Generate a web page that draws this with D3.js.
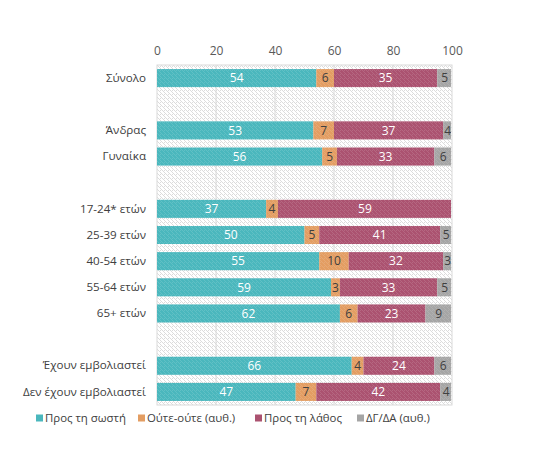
<!DOCTYPE html>
<html>
<head>
<meta charset="utf-8">
<script src="https://cdn.jsdelivr.net/npm/d3@7"></script>
<style>
    body { margin: 0; background: #fff; }
    text { font-family: "Open Sans", "Noto Sans", sans-serif; }
</style>
</head>
<body>
<div id="chart"></div>
<script>
    // rows, blank strings = empty spacer slots
    const categories = ['Σύνολο', '', 'Άνδρας', 'Γυναίκα', ' ', '17-24* ετών', '25-39 ετών', '40-54 ετών',
        '55-64 ετών', '65+ ετών', '  ', 'Έχουν εμβολιαστεί', 'Δεν έχουν εμβολιαστεί'];
    const seriesNames = ['Προς τη σωστή', 'Ούτε-ούτε (αυθ.)', 'Προς τη λάθος', 'ΔΓ/ΔΑ (αυθ.)'];
    const correct = [54, null, 53, 56, null, 37, 50, 55, 59, 62, null, 66, 47];
    const neither = [6, null, 7, 5, null, 4, 5, 10, 3, 6, null, 4, 7];
    const wrong   = [35, null, 37, 33, null, 59, 41, 32, 33, 23, null, 24, 42];
    const dkna    = [5, null, 4, 6, null, 0, 5, 3, 5, 9, null, 6, 4];
    const xTicks = [0, 20, 40, 60, 80, 100];

    const colors = ['#4ab7bd', '#e39d62', '#ab5270', '#a5a5a5'];
    const labelColors = ['#ffffff', '#404040', '#ffffff', '#404040'];

    const width = 551, height = 462;
    const margin = { top: 65, right: 100, bottom: 57, left: 157 };

    const svg = d3.select('#chart').append('svg')
        .attr('width', width)
        .attr('height', height);

    const defs = svg.append('defs');
    const hatch = defs.append('pattern')
        .attr('id', 'hatch')
        .attr('patternUnits', 'userSpaceOnUse')
        .attr('width', 4).attr('height', 4);
    hatch.append('rect').attr('width', 4).attr('height', 4).attr('fill', '#fff');
    hatch.append('path')
        .attr('d', 'M-1,1 l2,2 M0,0 l4,4 M3,-1 l2,2')
        .attr('stroke', '#dcdcdc').attr('stroke-width', 1);

    const hatchLight = defs.append('pattern')
        .attr('id', 'hatchLight')
        .attr('patternUnits', 'userSpaceOnUse')
        .attr('width', 4).attr('height', 4);
    hatchLight.append('path')
        .attr('d', 'M-1,1 l2,2 M0,0 l4,4 M3,-1 l2,2')
        .attr('stroke', '#fff').attr('stroke-opacity', 0.12).attr('stroke-width', 1);

    defs.append('clipPath').attr('id', 'plotClip')
        .append('rect')
        .attr('x', margin.left).attr('y', margin.top)
        .attr('width', width - margin.left - margin.right)
        .attr('height', height - margin.top - margin.bottom);

    const x = d3.scaleLinear()
        .domain([0, 100])
        .range([margin.left, width - margin.right + 1]);

    const y = d3.scaleBand()
        .domain(categories)
        .range([margin.top, height - margin.bottom])
        .paddingInner(0.31)
        .paddingOuter(0.155);

    // plot area background
    svg.append('rect')
        .attr('x', margin.left).attr('y', margin.top)
        .attr('width', x(100) - margin.left)
        .attr('height', height - margin.top - margin.bottom)
        .attr('fill', 'url(#hatch)')
        .attr('stroke', '#d9d9d9');

    // gridlines
    svg.append('g').selectAll('line')
        .data(xTicks.slice(1, -1))
        .join('line')
        .attr('x1', d => x(d)).attr('x2', d => x(d))
        .attr('y1', margin.top).attr('y2', height - margin.bottom)
        .attr('stroke', '#d9d9d9');

    // top axis labels
    svg.append('g')
        .attr('transform', `translate(0,${margin.top - 10})`)
        .call(d3.axisTop(x).tickValues(xTicks).tickSize(0).tickPadding(0))
        .call(g => g.select('.domain').remove())
        .call(g => g.selectAll('text')
            .attr('fill', '#595959')
            .style('font-size', '12px')
            .style('font-family', '"Open Sans", "Noto Sans", sans-serif'));

    // category labels
    svg.append('g')
        .attr('transform', `translate(${margin.left - 11},0)`)
        .call(d3.axisLeft(y).tickSize(0).tickPadding(0))
        .call(g => g.select('.domain').remove())
        .call(g => g.selectAll('text')
            .attr('fill', '#404040')
            .style('font-size', '11.6px')
            .style('font-family', '"Open Sans", "Noto Sans", sans-serif'));

    const table = categories.map((c, i) => ({
        cat: c, correct: correct[i], neither: neither[i], wrong: wrong[i], dkna: dkna[i]
    })).filter(d => d.correct !== null);

    const keys = ['correct', 'neither', 'wrong', 'dkna'];
    const stacked = d3.stack().keys(keys)(table);

    const bars = svg.append('g').attr('clip-path', 'url(#plotClip)');

    stacked.forEach((layer, si) => {
        const g = bars.append('g');
        const segs = layer.filter(d => d[1] > d[0]);
        g.selectAll('rect.bar')
            .data(segs)
            .join('rect')
            .attr('class', 'bar')
            .attr('x', d => x(d[0]))
            .attr('y', d => y(d.data.cat))
            .attr('width', d => x(d[1]) - x(d[0]))
            .attr('height', y.bandwidth())
            .attr('fill', colors[si]);
        g.selectAll('rect.tex')
            .data(segs)
            .join('rect')
            .attr('class', 'tex')
            .attr('x', d => x(d[0]))
            .attr('y', d => y(d.data.cat))
            .attr('width', d => x(d[1]) - x(d[0]))
            .attr('height', y.bandwidth())
            .attr('fill', 'url(#hatchLight)');
        g.selectAll('text')
            .data(segs)
            .join('text')
            .attr('x', d => (x(d[0]) + Math.min(x(d[1]), x(100))) / 2)
            .attr('y', d => y(d.data.cat) + y.bandwidth() / 2)
            .attr('dy', '0.36em')
            .attr('text-anchor', 'middle')
            .attr('fill', labelColors[si])
            .style('font-size', '12px')
            .text(d => d.data[keys[si]]);
    });

    // legend
    const legendX = [36, 138, 255, 357];
    const legend = svg.append('g').attr('transform', 'translate(0,418)');
    seriesNames.forEach((name, i) => {
        legend.append('rect')
            .attr('x', legendX[i]).attr('y', -3.5)
            .attr('width', 7).attr('height', 7)
            .attr('fill', colors[i]);
        legend.append('text')
            .attr('x', legendX[i] + 9)
            .attr('y', 0)
            .attr('dy', '0.36em')
            .attr('fill', '#404040')
            .style('font-size', '11.4px')
            .text(name);
    });
</script>
</body>
</html>
